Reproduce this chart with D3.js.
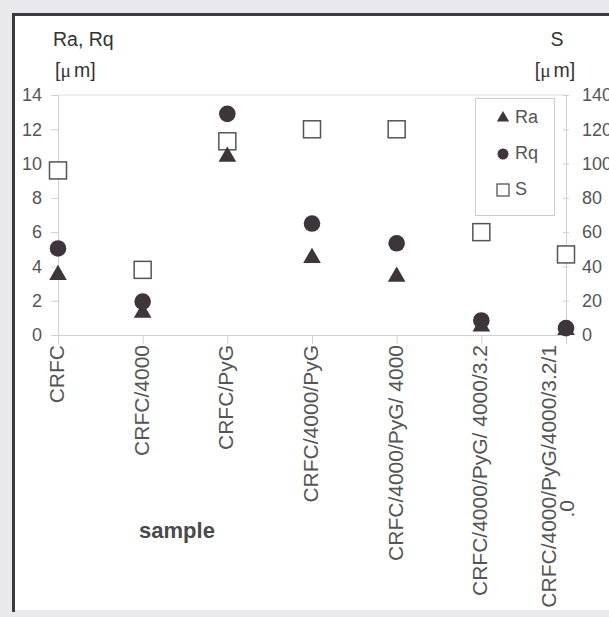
<!DOCTYPE html>
<html><head><meta charset="utf-8">
<script src="https://cdn.jsdelivr.net/npm/d3@7/dist/d3.min.js"></script>
<style>body{margin:0;background:#e8e8ed;}svg{display:block;font-family:Arial,"Liberation Sans",sans-serif;}</style>
</head><body>
<svg id="c" width="609" height="617"></svg>
<script>
const categories = ["CRFC","CRFC/4000","CRFC/PyG","CRFC/4000/PyG","CRFC/4000/PyG/ 4000","CRFC/4000/PyG/ 4000/3.2","CRFC/4000/PyG/4000/3.2/1.0"];
const ra = [3.5, 1.3, 10.4, 4.5, 3.4, 0.5, 0.3];
const rq = [5.05, 1.95, 12.9, 6.5, 5.35, 0.85, 0.4];
const s  = [96, 38, 113, 120, 120, 60, 47];
const leftTicks = [0,2,4,6,8,10,12,14];
const rightTicks = [0,20,40,60,80,100,120,140];

const svg = d3.select("#c");
const W = 609, H = 617;
const FF = "Arial, 'Liberation Sans', sans-serif";
// frame
svg.append("rect").attr("x",0).attr("y",0).attr("width",W).attr("height",H).attr("fill","#e8e8ed");
svg.append("rect").attr("x",13).attr("y",15).attr("width",W).attr("height",595).attr("fill","#ffffff");
svg.append("line").attr("x1",13.5).attr("x2",13.5).attr("y1",13).attr("y2",612).attr("stroke","#3c3a40").attr("stroke-width",3);
svg.append("line").attr("x1",12).attr("x2",W).attr("y1",14.5).attr("y2",14.5).attr("stroke","#3c3a40").attr("stroke-width",3);

const x = d3.scalePoint().domain(categories).range([58, 566]);
const yL = d3.scaleLinear().domain([0,14]).range([335, 95]);
const yR = d3.scaleLinear().domain([0,140]).range([335, 95]);

const axisCol = "#d0d0d0", textCol = "#555";
// top gridline
svg.append("line").attr("x1",58).attr("x2",566).attr("y1",yL(14)).attr("y2",yL(14)).attr("stroke","#e0e0e0");

const gl = svg.append("g").attr("transform","translate(58,0)")
  .call(d3.axisLeft(yL).tickValues(leftTicks).tickSize(7).tickPadding(9));
const gr = svg.append("g").attr("transform","translate(566,0)")
  .call(d3.axisRight(yR).tickValues(rightTicks).tickSize(3).tickPadding(13));
gr.selectAll(".tick line").attr("x1",-3);
const gx = svg.append("g").attr("transform","translate(0,335)")
  .call(d3.axisBottom(x).tickSize(9).tickSizeOuter(0));
[gl,gr,gx].forEach(g=>{
  g.select(".domain").attr("stroke",axisCol);
  g.selectAll(".tick line").attr("stroke",axisCol);
  g.selectAll("text").attr("fill",textCol).style("font-size","18px").style("font-family",FF);
});
gx.selectAll(".tick text").each(function(d){
  const t = d3.select(this);
  t.text(null).attr("transform","rotate(-90)").attr("text-anchor","end").attr("x",-10).attr("y",-2).attr("dy","0.35em").style("font-size","21px");
  if (d.endsWith("/1.0")) {
    t.attr("y",0).attr("dy",null);
    t.append("tspan").attr("x",-10).attr("dy","-0.5em").text(d.slice(0,-2));
    t.append("tspan").attr("x",-165).attr("dy","0.85em").text(d.slice(-2));
  } else {
    t.text(d);
  }
});

// titles
const tCol = "#333";
function unit(xp, anchor){
  const t = svg.append("text").attr("x",xp).attr("y",77).attr("text-anchor",anchor).attr("fill",tCol).style("font-size","19.5px");
  t.append("tspan").text("[");
  t.append("tspan").style("font-family","'Liberation Serif', 'DejaVu Serif', serif").text("μ");
  t.append("tspan").attr("dx","3").text("m]");
}
svg.append("text").attr("x",53).attr("y",46).attr("fill",tCol).style("font-size","19.5px").text("Ra, Rq");
unit(55, "start");
svg.append("text").attr("x",557).attr("y",46).attr("text-anchor","middle").attr("fill",tCol).style("font-size","19.5px").text("S");
unit(555, "middle");
svg.append("text").attr("x",177).attr("y",538).attr("text-anchor","middle").attr("fill","#4a4a4a").style("font-size","22px").style("font-weight","bold").text("sample");

const markCol = "#3d353b";
const tri = d3.symbol().type(d3.symbolTriangle).size(135);
const g = svg.append("g");
g.selectAll(".sq").data(categories).join("rect")
  .attr("x",(d,i)=>x(d)-8.5).attr("y",(d,i)=>yR(s[i])-8.5).attr("width",17).attr("height",17)
  .attr("fill","#fff").attr("stroke","#555").attr("stroke-width",1.5);
g.selectAll(".tr").data(categories).join("path")
  .attr("d",tri).attr("transform",(d,i)=>`translate(${x(d)},${yL(ra[i])})`).attr("fill",markCol);
g.selectAll(".ci").data(categories).join("circle")
  .attr("cx",d=>x(d)).attr("cy",(d,i)=>yL(rq[i])).attr("r",8.3).attr("fill",markCol);

// legend
const lg = svg.append("g");
lg.append("rect").attr("x",475.5).attr("y",98.5).attr("width",79).attr("height",117).attr("fill","#fff").attr("stroke","#ccc");
const items = [{k:"Ra",y:117},{k:"Rq",y:153},{k:"S",y:189}];
items.forEach(it=>{
  if (it.k==="Ra") lg.append("path").attr("d",d3.symbol().type(d3.symbolTriangle).size(65)).attr("transform",`translate(503,${it.y+1})`).attr("fill",markCol);
  else if (it.k==="Rq") lg.append("circle").attr("cx",503).attr("cy",it.y+1).attr("r",5.5).attr("fill",markCol);
  else lg.append("rect").attr("x",497).attr("y",it.y-5).attr("width",12).attr("height",12).attr("fill","#fff").attr("stroke","#555").attr("stroke-width",1.3);
  lg.append("text").attr("x",515).attr("y",it.y).attr("dy","0.35em").attr("fill",textCol).style("font-size","18px").style("font-family",FF).text(it.k);
});
</script>
</body></html>
